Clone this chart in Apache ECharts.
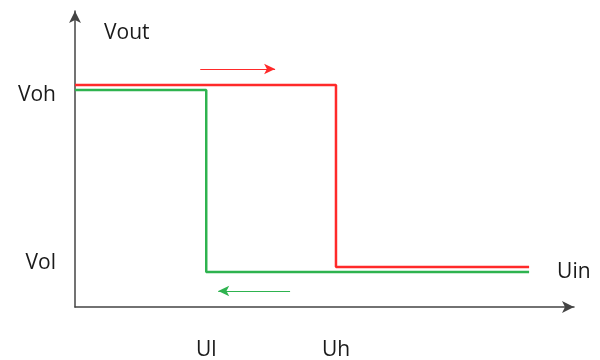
<!DOCTYPE html>
<html>
<head>
<meta charset="utf-8">
<script src="https://cdn.jsdelivr.net/npm/echarts@6/dist/echarts.min.js"></script>
<style>
  html, body { margin: 0; padding: 0; background: #fff; }
  #chart { width: 600px; height: 360px; }
</style>
</head>
<body>
<div id="chart"></div>
<script>
// hysteresis thresholds on the input axis (0..100 scale)
var inputTicks = [26.3, 52.3];
var inputTickNames = ['Ul', 'Uh'];
// output levels (0..100 scale)
var outputTicks = [14.7, 71.6];
var outputTickNames = ['Vol', 'Voh'];

// rising path (red) and falling path (green)
var risingX = [0, 52.3, 52.3, 91.0];
var risingY = [75.0, 75.0, 13.5, 13.5];
var fallingX = [0, 26.3, 26.3, 91.0];
var fallingY = [73.3, 73.3, 11.8, 11.8];

// direction arrows: [x start, x end, y]
var risingArrow = [25.1, 40.1, 80.4];
var fallingArrow = [43.1, 28.7, 5.4];

function zip(xs, ys) {
    return xs.map(function (x, i) { return [x, ys[i]]; });
}

var font = 'Open Sans';
var chart = echarts.init(document.getElementById('chart'));
var option = {
    animation: false,
    textStyle: { fontFamily: font },
    grid: { left: 75, right: 26, top: 11, bottom: 53, outerBoundsMode: 'none', containLabel: false },
    graphic: [{
        type: 'text',
        left: 104,
        top: 23,
        style: { text: 'Vout', fontSize: 21, fontFamily: font, fill: '#1a1a1a' }
    }],
    xAxis: {
        type: 'value',
        min: 0,
        max: 100,
        splitLine: { show: false },
        axisLine: {
            onZero: false,
            symbol: ['none', 'arrow'],
            symbolSize: [9, 12],
            lineStyle: { color: '#444', width: 1.5 }
        },
        axisTick: { show: false },
        axisLabel: {
            customValues: inputTicks,
            formatter: function (v) { return inputTickNames[inputTicks.indexOf(v)]; },
            fontSize: 21,
            color: '#1a1a1a',
            margin: 33
        }
    },
    yAxis: {
        type: 'value',
        min: 0,
        max: 100,
        splitLine: { show: false },
        axisLine: {
            show: true,
            onZero: false,
            symbol: ['none', 'arrow'],
            symbolSize: [9, 12],
            lineStyle: { color: '#444', width: 1.5 }
        },
        axisTick: { show: false },
        axisLabel: {
            customValues: outputTicks,
            formatter: function (v) { return outputTickNames[outputTicks.indexOf(v)]; },
            fontSize: 21,
            color: '#1a1a1a',
            margin: 19
        }
    },
    series: [{
        type: 'line',
        data: zip(risingX, risingY),
        symbol: 'none',
        lineStyle: { color: '#ff2a2a', width: 2.5 },
        markLine: {
            silent: true,
            symbol: ['none', 'arrow'],
            symbolSize: [8, 11],
            label: { show: false },
            lineStyle: { color: '#ff2a2a', width: 1.2, type: 'solid' },
            data: [[
                { coord: [risingArrow[0], risingArrow[2]] },
                { coord: [risingArrow[1], risingArrow[2]] }
            ]]
        }
    }, {
        type: 'line',
        data: zip(fallingX, fallingY),
        symbol: 'none',
        lineStyle: { color: '#2eb34f', width: 2.5 },
        endLabel: {
            show: true,
            formatter: 'Uin',
            fontSize: 21,
            color: '#1a1a1a',
            distance: 28
        },
        markLine: {
            silent: true,
            symbol: ['none', 'arrow'],
            symbolSize: [8, 11],
            label: { show: false },
            lineStyle: { color: '#2eb34f', width: 1.2, type: 'solid' },
            data: [[
                { coord: [fallingArrow[0], fallingArrow[2]] },
                { coord: [fallingArrow[1], fallingArrow[2]] }
            ]]
        }
    }]
};
chart.setOption(option);
</script>
</body>
</html>
